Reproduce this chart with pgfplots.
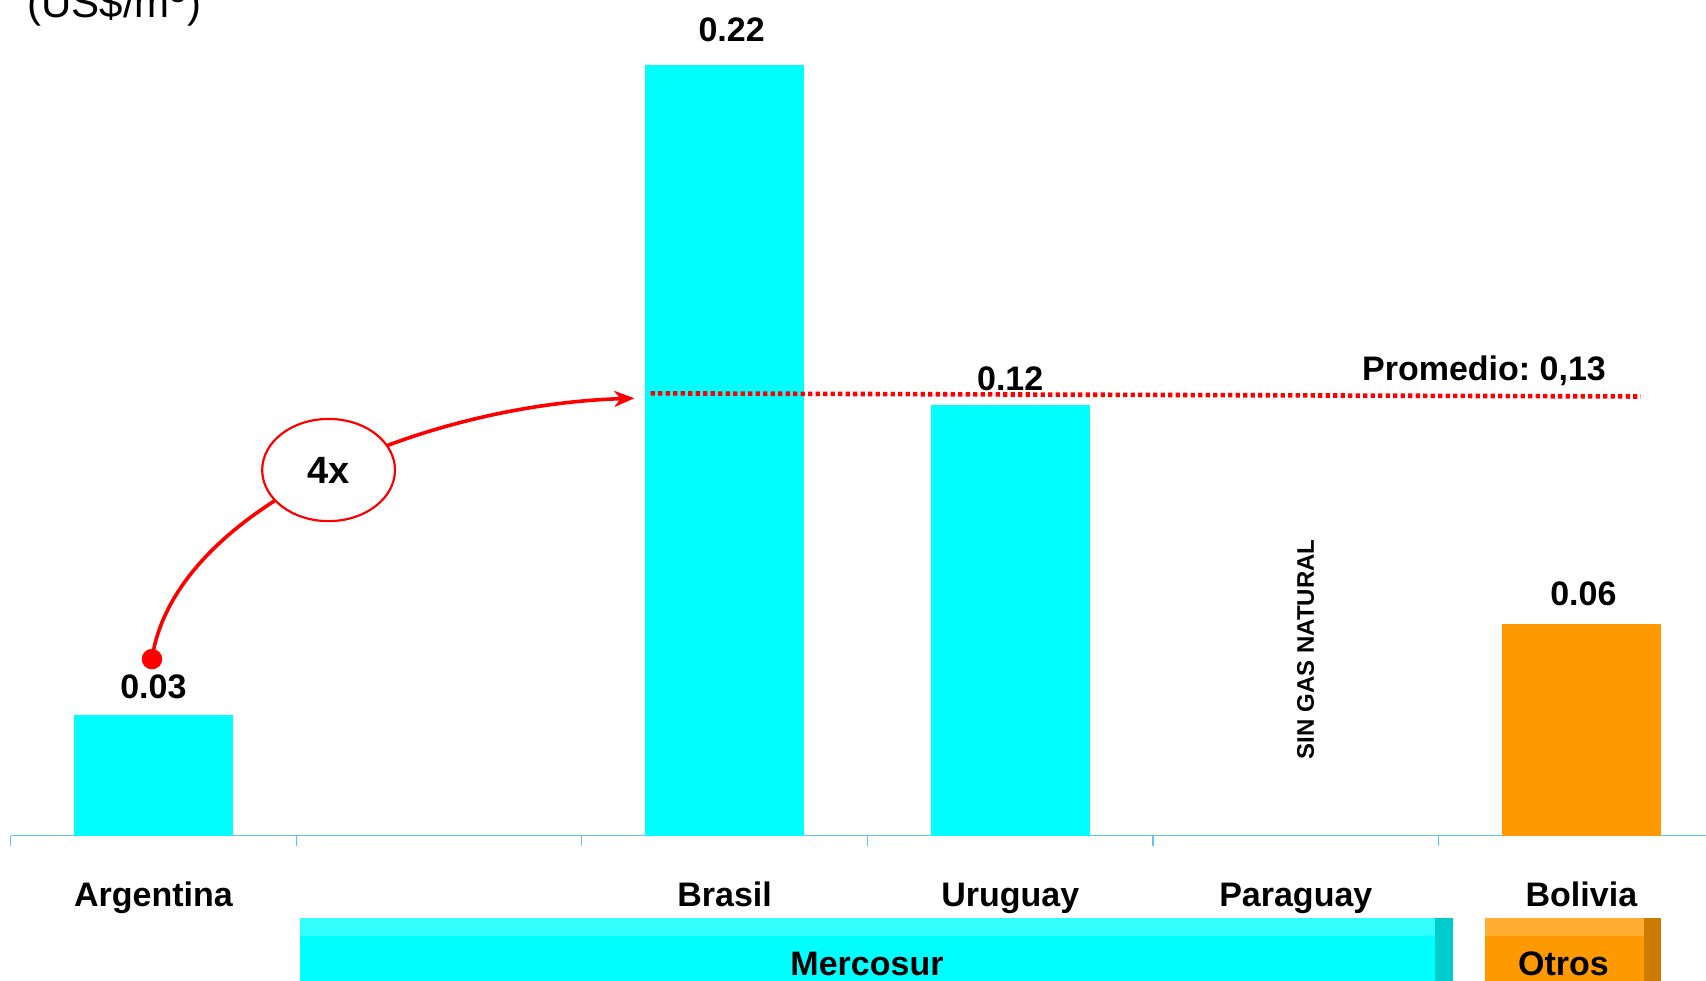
\documentclass[border=0pt]{standalone}
\usepackage{pgfplots}
\pgfplotsset{compat=1.18}
\usetikzlibrary{arrows.meta,shapes.geometric}
\usepackage{fontspec}
\setmainfont{Liberation Sans}
\frenchspacing
\definecolor{barcyan}{RGB}{0,255,255}
\definecolor{barorange}{RGB}{255,153,0}
\definecolor{cyanlight}{RGB}{51,255,255}
\definecolor{cyandark}{RGB}{0,204,204}
\definecolor{orangelight}{RGB}{255,173,51}
\definecolor{orangedark}{RGB}{204,122,0}
\definecolor{axcol}{RGB}{90,200,240}
\newcommand{\lab}{\bfseries\fontsize{17}{20}\selectfont}
\begin{document}
\begin{tikzpicture}
\useasboundingbox (0,0) rectangle (853pt,490pt);
\clip (0,0) rectangle (853pt,490pt);
\begin{axis}[
  at={(5.3pt,72.2pt)}, anchor=south west,
  scale only axis, width=856.8pt, height=420.2pt,
  xmin=-0.5, xmax=5.5, ymin=0, ymax=0.24,
  axis x line*=bottom, axis y line=none,
  x axis line style={color=axcol, line width=0.6pt},
  xtick={0,2,3,4,5},
  xticklabels={Argentina,Brasil,Uruguay,Paraguay,Bolivia},
  major tick length=0pt,
  minor xtick={-0.5,0.5,1.5,2.5,3.5,4.5,5.5},
  minor tick length=5pt, tick align=outside,
  every tick/.style={color=axcol, line width=0.6pt},
  xticklabel style={font=\lab, anchor=base, yshift=-35.4pt, text=black},
  ytick=\empty,
  clip=false,
  /pgf/number format/assume math mode=true,
]
% bars
\addplot[ybar, bar shift=0pt, bar width=79.4pt, fill=barcyan, draw=none,
  point meta=explicit symbolic, nodes near coords,
  nodes near coords style={font=\lab, anchor=south, inner sep=0pt, yshift=7.6pt, text=black}]
  coordinates {(0,0.0345) [0.03]};
\addplot[ybar, bar shift=0pt, bar width=79.4pt, fill=barcyan, draw=none,
  point meta=explicit symbolic, nodes near coords,
  nodes near coords style={font=\lab, anchor=south, inner sep=0pt, yshift=7.0pt, text=black}]
  coordinates {(3,0.123) [0.12]};
\addplot[ybar, bar shift=0pt, bar width=79.4pt, fill=barcyan, draw=none,
  point meta=explicit symbolic, nodes near coords,
  nodes near coords style={font=\lab, anchor=south, inner sep=0pt, yshift=11.3pt, xshift=3.5pt, text=black}]
  coordinates {(2,0.22) [0.22]};
\addplot[ybar, bar shift=0pt, bar width=79.4pt, fill=barorange, draw=none,
  point meta=explicit symbolic, nodes near coords,
  nodes near coords style={font=\lab, anchor=south, inner sep=0pt, yshift=9.1pt, xshift=1pt, text=black}]
  coordinates {(5,0.0603) [0.06]};
% average line
\addplot[red, line width=2.3pt, dash pattern=on 2.15pt off 1.6pt]
  coordinates {(1.741,0.1263) (5.208,0.1254)};
\node[font=\lab] at (axis cs:4.659,0.1328) {Promedio: 0,13};
% arrow
\draw[red, line width=1.8pt, -{Stealth[length=10pt,width=8pt,inset=3pt]}]
  (axis cs:-0.005,0.0504) .. controls (axis cs:0.07,0.0930) and (axis cs:0.9335,0.1230) .. (axis cs:1.684,0.1249);
\addplot[only marks, mark=*, mark size=4.9pt, color=red] coordinates {(-0.005,0.0504)};
\node[draw=red, line width=1.1pt, fill=white, ellipse, minimum width=66.4pt, minimum height=51.1pt, inner sep=0pt,
  font=\bfseries\fontsize{19}{22}\selectfont] at (axis cs:0.6134,0.1044) {4x};
\node[rotate=90, font=\bfseries\fontsize{12}{14}\selectfont] at (axis cs:4.034,0.0532) {SIN GAS NATURAL};
\end{axis}
% unit label
\node[anchor=base west, inner sep=0pt, font=\fontsize{21}{25}\selectfont] at (13.5pt,481pt) {(US\$/m\textsuperscript{3})};
% group bands
\fill[barcyan] (150.15pt,-5pt) rectangle (726.25pt,30.85pt);
\fill[cyanlight] (150.15pt,22.15pt) rectangle (717.5pt,30.85pt);
\fill[cyandark] (717.5pt,-5pt) rectangle (726.25pt,30.85pt);
\node[font=\lab] at (433.5pt,8pt) {Mercosur};
\fill[barorange] (742.5pt,-5pt) rectangle (830.7pt,30.85pt);
\fill[orangelight] (742.5pt,22.15pt) rectangle (822pt,30.85pt);
\fill[orangedark] (822pt,-5pt) rectangle (830.7pt,30.85pt);
\node[font=\lab] at (781.75pt,8pt) {Otros};
\end{tikzpicture}
\end{document}
